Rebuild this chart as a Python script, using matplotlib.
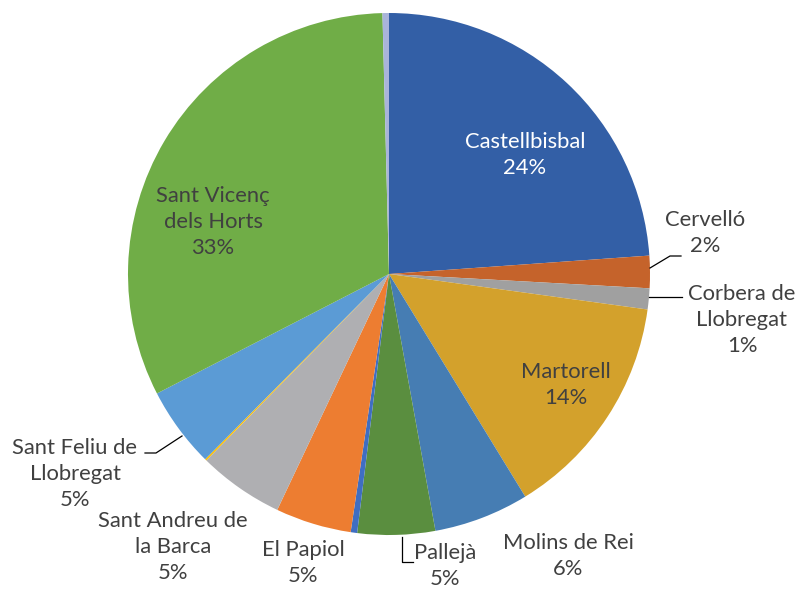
import matplotlib
matplotlib.use("Agg")
import matplotlib.pyplot as plt

labels = ["Castellbisbal", "Cervelló", "Corbera de\nLlobregat", "Martorell", "Molins de Rei",
          "Pallejà", "", "El Papiol", "Sant Andreu de\nla Barca", "", "Sant Feliu de\nLlobregat",
          "Sant Vicenç\ndels Horts", ""]
values = [23.9, 2.0, 1.3, 14.1, 5.9, 4.8, 0.4, 4.7, 5.3, 0.1, 5.0, 32.2, 0.4]
pct_labels = ["24%", "2%", "1%", "14%", "6%", "5%", "", "5%", "5%", "", "5%", "33%", ""]
colors = ["#335FA6", "#C5632B", "#A0A0A0", "#D3A12C", "#467DB3", "#5A8E3F", "#3F6EC2",
          "#ED7D31", "#AFAFB2", "#FFC000", "#5B9BD5", "#70AD47", "#A9B4DA"]

W, H = 798, 592
CX, CY, R = 389, 274, 261

fig = plt.figure(figsize=(W / 100, H / 100), dpi=100)
ax = fig.add_axes([0, 0, 1, 1])
ax.axis("off")

ax.pie(values, colors=colors, startangle=90, counterclock=False, radius=1.0,
       wedgeprops=dict(linewidth=0))
ax.set_xlim(-CX / R, (W - CX) / R)
ax.set_ylim(-(H - CY) / R, CY / R)
ax.set_aspect("auto")


def P(px, py):
    return ((px - CX) / R, (CY - py) / R)


font = dict(family=["Lato", "DejaVu Sans"], fontsize=15.8, ha="center", va="center",
            linespacing=1.38)
dark = "#404040"

# label positions (pixel centers of label blocks)
pos = {0: (525, 155), 1: (705, 233), 2: (742, 320), 3: (566, 385), 4: (568, 556),
       5: (445, 566), 7: (303, 563), 8: (173, 547), 10: (75, 474), 11: (213, 222)}
for i, (px, py) in pos.items():
    txt = (labels[i] + "\n" + pct_labels[i])
    col = "white" if i == 0 else dark
    x, y = P(px, py)
    ax.text(x, y, txt, color=col, **font)

# leader lines
leaders = [
    [(650, 268), (670, 256), (681, 256)],
    [(649, 297), (682, 297)],
    [(402, 537), (402, 562), (413, 562)],
    [(182, 436), (156, 453), (145, 453)],
]
for pts in leaders:
    xs, ys = zip(*[P(a, b) for a, b in pts])
    ax.plot(xs, ys, color="black", lw=0.9)

fig.savefig("out.png", dpi=100)
